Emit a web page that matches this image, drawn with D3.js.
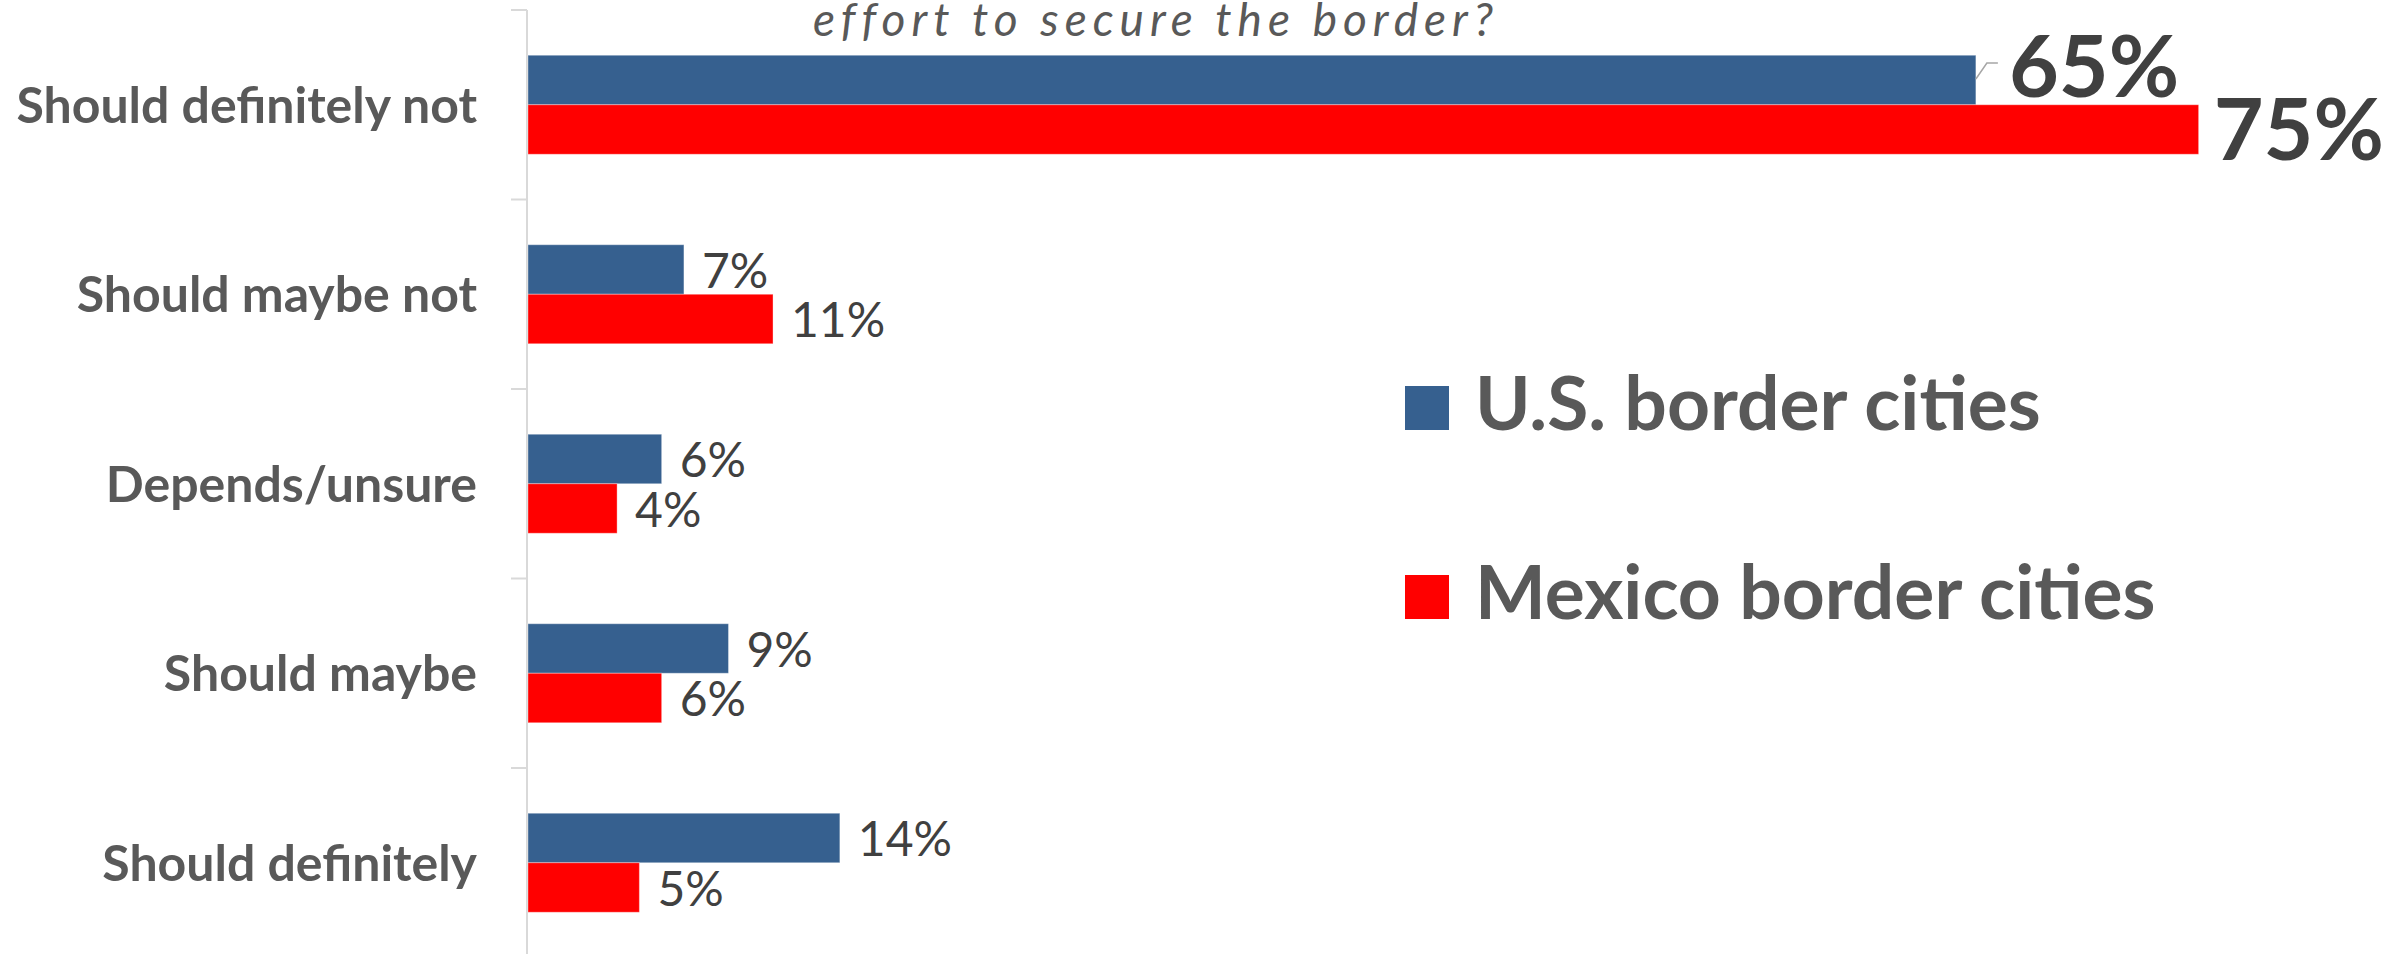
<!DOCTYPE html>
<html>
<head>
<meta charset="utf-8">
<script src="https://cdn.jsdelivr.net/npm/d3@7"></script>
<style>
  html, body { margin: 0; padding: 0; background: #ffffff; }
  svg { display: block; }
</style>
</head>
<body>
<svg id="chart" width="2402" height="954"></svg>
<script>
// Survey answers, top to bottom
const categories = [
  "Should definitely not",
  "Should maybe not",
  "Depends/unsure",
  "Should maybe",
  "Should definitely"
];
const seriesNames = ["U.S. border cities", "Mexico border cities"];
const usValues = [0.65, 0.07, 0.06, 0.09, 0.14];
const mexicoValues = [0.75, 0.11, 0.04, 0.06, 0.05];
const seriesColors = ["#36608F", "#FF0000"];
const titleText = "effort to secure the border?";

const W = 2402, H = 954;
const svg = d3.select("#chart");
svg.append("rect").attr("width", W).attr("height", H).attr("fill", "#ffffff");

const FONT = "Lato, 'Open Sans', 'Liberation Sans', sans-serif";

// Scales
const x = d3.scaleLinear().domain([0, 0.8]).range([528, 2310]);
const y = d3.scaleBand().domain(categories).range([10, 957.5]).padding(0);
const ySub = d3.scaleBand().domain(seriesNames).range([0, y.bandwidth()])
  .paddingInner(0).paddingOuter(0.914);

const rows = categories.map((c, i) => ({
  category: c,
  values: [
    { series: seriesNames[0], value: usValues[i], color: seriesColors[0] },
    { series: seriesNames[1], value: mexicoValues[i], color: seriesColors[1] }
  ],
  index: i
}));

// Title line (partly above the top edge)
svg.append("text")
  .attr("x", 1156).attr("y", 36)
  .attr("text-anchor", "middle")
  .attr("font-family", FONT)
  .attr("font-style", "italic")
  .attr("font-weight", 400)
  .attr("font-size", 46)
  .attr("letter-spacing", 6)
  .attr("fill", "#595959")
  .text(titleText);

// Vertical category axis with boundary ticks
const axisG = svg.append("g").attr("class", "axis");
const axisX = x(0) - 1;
axisG.append("line")
  .attr("x1", axisX).attr("x2", axisX)
  .attr("y1", y.range()[0]).attr("y2", y.range()[1])
  .attr("stroke", "#d9d9d9").attr("stroke-width", 2);
const boundaries = categories.map(c => y(c)).concat([y.range()[1]]);
axisG.selectAll("line.tick").data(boundaries).join("line")
  .attr("class", "tick")
  .attr("x1", axisX - 16).attr("x2", axisX)
  .attr("y1", d => d).attr("y2", d => d)
  .attr("stroke", "#d9d9d9").attr("stroke-width", 2);

// Category labels
svg.append("g").selectAll("text").data(categories).join("text")
  .attr("x", x(0) - 51)
  .attr("y", d => y(d) + y.bandwidth() / 2)
  .attr("dy", "0.36em")
  .attr("text-anchor", "end")
  .attr("font-family", FONT)
  .attr("font-weight", 700)
  .attr("font-size", 50)
  .attr("fill", "#595959")
  .text(d => d);

// Bars
const groups = svg.append("g").selectAll("g").data(rows).join("g")
  .attr("transform", d => `translate(0,${y(d.category)})`);

groups.selectAll("rect").data(d => d.values).join("rect")
  .attr("x", x(0))
  .attr("y", d => ySub(d.series))
  .attr("width", d => x(d.value) - x(0))
  .attr("height", ySub.bandwidth())
  .attr("fill", d => d.color)
  .attr("stroke", "rgba(255,255,255,0.35)")
  .attr("stroke-width", 1);

// Value labels
const fmt = d3.format(".0%");
groups.each(function (row) {
  const g = d3.select(this);
  row.values.forEach((v, si) => {
    const cy = ySub(v.series) + ySub.bandwidth() / 2;
    const xe = x(v.value);
    if (row.index === 0) {
      if (si === 0) {
        // leader line for the raised label
        g.append("polyline")
          .attr("points", `${xe},${cy - 1} ${xe + 11},${cy - 17} ${xe + 22},${cy - 17}`)
          .attr("fill", "none")
          .attr("stroke", "#a6a6a6")
          .attr("stroke-width", 1.5);
        g.append("text")
          .attr("x", xe + 33).attr("y", cy - 14)
          .attr("dy", "0.36em")
          .attr("font-family", FONT).attr("font-weight", 700)
          .attr("font-size", 86).attr("fill", "#404040")
          .text(fmt(v.value));
      } else {
        g.append("text")
          .attr("x", xe + 15).attr("y", cy)
          .attr("dy", "0.36em")
          .attr("font-family", FONT).attr("font-weight", 700)
          .attr("font-size", 86).attr("fill", "#404040")
          .text(fmt(v.value));
      }
    } else {
      g.append("text")
        .attr("x", xe + 18).attr("y", cy + 1)
        .attr("dy", "0.36em")
        .attr("font-family", FONT).attr("font-weight", 400)
        .attr("font-size", 48).attr("fill", "#404040")
        .text(fmt(v.value));
    }
  });
});

// Legend
const legend = svg.append("g").attr("transform", "translate(1405,386)");
const legendItems = legend.selectAll("g").data(seriesNames).join("g")
  .attr("transform", (d, i) => `translate(0,${i * 189})`);
legendItems.append("rect")
  .attr("width", 44).attr("height", 44)
  .attr("fill", (d, i) => seriesColors[i]);
legendItems.append("text")
  .attr("x", 70).attr("y", 44)
  .attr("font-family", FONT).attr("font-weight", 700)
  .attr("font-size", 75).attr("fill", "#595959")
  .text(d => d);
</script>
</body>
</html>
